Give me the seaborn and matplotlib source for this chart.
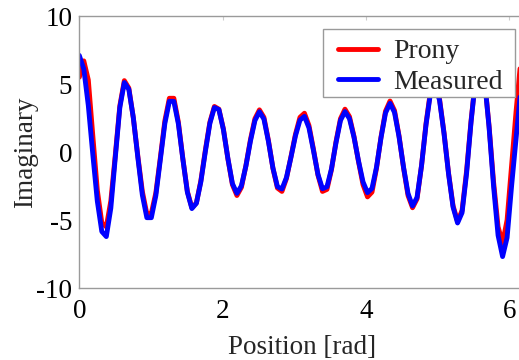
import numpy as np
import pandas as pd
import matplotlib
matplotlib.use("Agg")
import matplotlib.pyplot as plt
from matplotlib.patches import Rectangle
import seaborn as sns

# ---- data ----
n_samples = 101
position = np.linspace(0, 2 * np.pi, n_samples)

measured = [
    7.1, 6.1, 3.42, -0.18, -3.61, -5.85, -6.22, -4.13, -0.38, 3.27,
    5.11, 4.61, 2.52, -0.40, -3.16, -4.83, -4.83, -3.2, -0.55, 2.1,
    3.73, 3.72, 2.07, -0.53, -2.96, -4.16, -3.77, -2.18, 0.05, 2.11,
    3.27, 3.12, 1.65, -0.48, -2.32, -3.04, -2.49, -1.03, 0.79, 2.31,
    2.96, 2.42, 0.78, -1.18, -2.55, -2.72, -1.88, -0.40, 1.19, 2.34,
    2.62, 1.78, 0.11, -1.65, -2.70, -2.56, -1.24, 0.67, 2.32, 2.97,
    2.45, 1.09, -0.65, -2.19, -2.99, -2.68, -1.12, 1.04, 2.87, 3.58,
    2.91, 1.13, -1.11, -3.05, -3.97, -3.34, -1.01, 2.01, 4.35, 4.97,
    3.8, 1.35, -1.6, -4.05, -5.22, -4.46, -1.59, 2.21, 5.38, 6.6,
    5.28, 1.82, -2.51, -6.13, -7.69, -6.3, -2.5, 1.0, 4.5, 6.5,
    7.1,
]

prony = [
    5.5, 6.7, 5.3, 1.2, -2.8, -5.2, -5.5, -3.6, -0.2, 3.4,
    5.25, 4.7, 2.5, -0.3, -2.9, -4.55, -4.5, -3.0, -0.4, 2.3,
    3.95, 3.95, 2.2, -0.5, -2.9, -4.1, -3.75, -2.1, 0.15, 2.2,
    3.35, 3.15, 1.7, -0.5, -2.4, -3.2, -2.6, -1.0, 0.9, 2.45,
    3.1, 2.55, 0.85, -1.2, -2.65, -2.9, -1.95, -0.35, 1.3, 2.55,
    2.85, 1.95, 0.2, -1.7, -2.9, -2.75, -1.3, 0.75, 2.45, 3.15,
    2.6, 1.15, -0.7, -2.4, -3.3, -2.95, -1.2, 1.1, 3.0, 3.75,
    3.05, 1.2, -1.15, -3.2, -4.1, -3.45, -1.0, 2.1, 4.5, 5.1,
    3.9, 1.4, -1.55, -3.95, -5.1, -4.3, -1.4, 2.3, 5.45, 6.7,
    5.3, 1.9, -2.2, -5.5, -6.7, -5.0, -1.0, 3.0, 6.6, 7.0,
    6.5,
]

series_names = ["Prony", "Measured"]
x_ticks = [0, 2, 4, 6]
y_ticks = [-10, -5, 0, 5, 10]

df = pd.concat([
    pd.DataFrame({"Position": position, "Imaginary": prony, "Series": "Prony"}),
    pd.DataFrame({"Position": position, "Imaginary": measured, "Series": "Measured"}),
], ignore_index=True)

# ---- style ----
sns.set_style("white")
plt.rcParams["font.family"] = ["Liberation Serif", "DejaVu Serif"]
plt.rcParams["axes.unicode_minus"] = False

W, H = 519, 360
fig = plt.figure(figsize=(W / 100, H / 100), dpi=100)
ax_left, ax_right = 79.3, 529.6
ax_top, ax_bottom = 16, 288
ax = fig.add_axes([ax_left / W, 1 - ax_bottom / H, (ax_right - ax_left) / W, (ax_bottom - ax_top) / H])

sns.lineplot(data=df, x="Position", y="Imaginary", hue="Series", hue_order=series_names,
             palette={"Prony": "#ff0000", "Measured": "#0000ff"}, linewidth=3.5,
             estimator=None, sort=False, ax=ax)

ax.set_xlim(0, 2 * np.pi)
ax.set_ylim(-10, 10)
ax.set_xticks(x_ticks)
ax.set_yticks(y_ticks)
ax.set_xticklabels([str(t) for t in x_ticks])
ax.set_yticklabels([str(t) for t in y_ticks])

spine_col = "#9a9a9a"
for s in ["left", "bottom", "top"]:
    ax.spines[s].set_visible(True)
    ax.spines[s].set_color(spine_col)
    ax.spines[s].set_linewidth(1.0)
ax.spines["right"].set_visible(False)

ax.tick_params(axis="both", direction="in", length=3, width=0.8, color="#cccccc",
               labelsize=19.5, labelcolor="black")
ax.tick_params(axis="x", pad=8, top=True)
ax.tick_params(axis="y", pad=5)

ax.set_xlabel("Position [rad]", fontsize=19.5)
ax.set_ylabel("Imaginary", fontsize=19.5)
span_x = ax_right - ax_left
span_y = ax_bottom - ax_top
ax.xaxis.set_label_coords((302 - ax_left) / span_x, -(347 - ax_bottom) / span_y)
ax.xaxis.label.set_va("center")
ax.yaxis.set_label_coords((26 - ax_left) / span_x, 0.5)
ax.yaxis.label.set_va("center")

# legend frame (drawn separately to get the wide horizontal padding of the reference)
box_x0, box_y0, box_x1, box_y1 = 322.7, 29.3, 515.0, 97.3
frame = Rectangle((box_x0 / W, 1 - box_y1 / H), (box_x1 - box_x0) / W, (box_y1 - box_y0) / H,
                  transform=fig.transFigure, facecolor="white", edgecolor="#9a9a9a",
                  linewidth=1.0, zorder=4, clip_on=False)
ax.add_artist(frame)

leg = ax.legend(loc="upper left", bbox_to_anchor=(338.0 / W, 1 - 39.0 / H),
                bbox_transform=fig.transFigure, borderaxespad=0, fontsize=20,
                frameon=False, handlelength=1.44, handletextpad=0.54,
                labelspacing=0.17, borderpad=0.0)
leg.set_zorder(5)
for line in leg.get_lines():
    line.set_linewidth(3.5)

fig.savefig("out.png", dpi=100)
